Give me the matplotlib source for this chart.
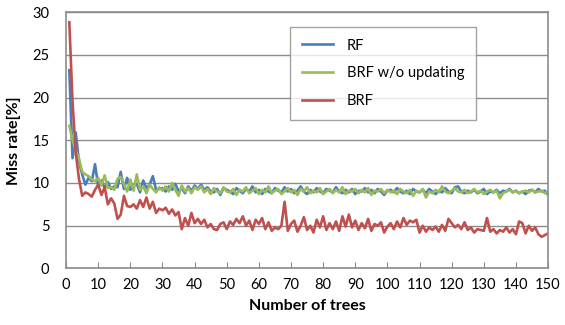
import matplotlib.pyplot as plt

plt.rcParams['font.family'] = ['Lato', 'DejaVu Sans']

# miss rate (%) per number of trees
rf = [23.2, 12.9, 15.9, 12.5, 11.0, 9.8, 10.6, 10.2, 12.2, 9.6,
      10.3, 9.4, 10.1, 9.3, 9.6, 9.5, 11.3, 9.3, 10.6, 9.2,
      9.7, 9.9, 8.9, 10.3, 9.4, 9.8, 10.8, 9.2, 9.3, 9.4,
      9.0, 9.6, 9.2, 9.9, 9.0, 9.4, 8.8, 9.6, 9.1, 9.7,
      9.3, 9.8, 9.2, 9.5, 9.0, 8.9, 9.3, 8.6, 9.4, 9.2,
      9.0, 8.7, 9.4, 9.1, 8.8, 9.3, 9.0, 9.6, 8.9, 9.2,
      8.7, 9.3, 9.0, 8.8, 9.4, 9.1, 8.9, 9.5, 9.0, 9.3,
      8.8, 9.1, 9.6, 9.0, 8.7, 9.2, 8.9, 9.4, 9.0, 8.8,
      9.3, 9.1, 8.9, 9.5, 9.0, 8.8, 9.2, 8.9, 9.3, 8.7,
      9.1, 9.0, 9.4, 8.9, 9.2, 8.8, 9.3, 9.0, 8.6, 9.1,
      9.2, 8.9, 9.4, 9.0, 8.8, 9.1, 8.7, 9.3, 9.0, 8.9,
      9.2, 8.8, 9.3, 9.0, 8.7, 9.1, 8.9, 9.4, 9.0, 8.8,
      9.5, 9.6, 9.0, 8.8, 9.1, 8.9, 9.2, 8.8, 9.0, 9.3,
      8.7, 9.0, 8.9, 9.2, 8.8, 9.1, 9.0, 9.3, 8.9, 9.1,
      8.8, 9.0, 8.7, 9.1, 9.2, 8.9, 9.3, 9.0, 9.1, 8.6]

brf_no_update = [16.7, 15.0, 13.8, 12.9, 11.3, 11.0, 10.8, 10.4, 10.2, 10.6,
                 9.7, 10.9, 9.4, 9.5, 9.2, 10.5, 10.7, 9.9, 9.0, 10.4,
                 9.1, 11.0, 9.2, 9.6, 8.8, 9.8, 9.3, 8.9, 9.5, 9.1,
                 9.6, 9.0, 10.0, 9.2, 8.5, 9.7, 9.0, 9.4, 8.8, 9.5,
                 9.2, 9.6, 8.9, 9.3, 8.7, 9.4, 9.0, 8.8, 9.5, 9.0,
                 8.9, 9.3, 8.6, 9.2, 9.0, 9.5, 8.8, 9.1, 9.4, 8.7,
                 9.2, 8.9, 9.6, 8.8, 9.1, 9.3, 8.7, 9.0, 9.4, 8.9,
                 9.2, 8.6, 9.3, 9.0, 9.5, 8.8, 9.1, 8.9, 9.4, 8.7,
                 9.0, 9.3, 8.8, 9.2, 8.9, 9.5, 8.7, 9.1, 9.0, 9.3,
                 8.8, 9.2, 8.9, 9.4, 8.6, 9.1, 9.0, 9.3, 8.8, 9.2,
                 8.9, 9.1, 8.7, 9.3, 9.0, 8.8, 9.2, 8.5, 9.1, 8.9,
                 9.3, 8.3, 9.0, 8.8, 9.2, 8.9, 9.6, 9.0, 8.8, 9.1,
                 9.4, 9.0, 8.9, 9.2, 8.8, 9.0, 9.3, 8.9, 9.1, 8.7,
                 9.0, 9.2, 8.9, 9.1, 8.2, 8.8, 9.0, 9.2, 8.9, 9.1,
                 8.8, 9.0, 9.1, 8.9, 9.2, 8.9, 9.0, 9.1, 8.8, 9.0]

brf = [28.8, 19.5, 13.5, 10.5, 8.5, 8.9, 8.7, 8.4, 9.2, 9.8,
       8.6, 9.5, 7.5, 8.2, 7.6, 5.8, 6.3, 8.5, 7.3, 7.2,
       7.5, 7.0, 8.0, 7.2, 8.3, 7.0, 7.8, 6.5, 7.0, 6.8,
       7.1, 6.4, 6.9, 6.2, 6.6, 4.6, 5.9, 5.0, 6.5, 5.3,
       5.8, 5.2, 5.7, 4.8, 5.2, 4.6, 4.5, 5.2, 5.4, 4.6,
       5.5, 5.1, 5.8, 5.3, 6.1, 5.0, 5.6, 4.5, 5.7, 5.2,
       5.9, 4.6, 5.4, 4.4, 4.8, 4.6, 5.0, 7.8, 4.4, 5.2,
       5.6, 4.3, 5.0, 6.0, 4.5, 5.0, 4.2, 5.7, 4.8, 6.1,
       4.5, 5.3, 4.6, 5.5, 4.4, 6.1, 4.9, 6.3, 4.8, 5.6,
       4.5, 5.3, 4.7, 5.8, 4.4, 5.2, 5.0, 5.4, 4.2, 4.9,
       5.3, 4.6, 5.5, 4.8, 5.9, 5.1, 5.6, 5.4, 5.7, 4.2,
       5.0, 4.3, 4.8, 4.5, 4.9, 4.3, 5.1, 4.4, 5.8, 5.3,
       4.8, 5.1, 4.6, 5.4, 4.5, 4.8, 4.2, 4.6, 4.5, 4.4,
       5.9, 4.3, 4.6, 4.1, 4.5, 4.3, 4.8, 4.2, 4.6, 4.0,
       5.5, 5.3, 4.1, 5.0, 4.4, 4.8, 4.0, 3.7, 3.9, 4.1]

labels = ["RF", "BRF w/o updating", "BRF"]
colors = ["#4A7EBB", "#9BBB59", "#C0504D"]

fig = plt.figure(figsize=(5.65, 3.25), dpi=100)
ax = fig.add_axes([0.117, 0.174, 0.853, 0.789])

for vals, lab, col in zip([rf, brf_no_update, brf], labels, colors):
    ax.plot(range(1, len(vals) + 1), vals, color=col, lw=1.9, label=lab)

ax.set_xlim(0, 150)
ax.set_ylim(0, 30)
ax.set_xticks(range(0, 151, 10))
ax.set_yticks(range(0, 31, 5))
ax.yaxis.grid(True, color="#8c8c8c", lw=1)
ax.set_axisbelow(True)
for s in ax.spines.values():
    s.set_color("#8c8c8c")
    s.set_linewidth(1.2)
ax.tick_params(axis="x", direction="in", length=4, color="#8c8c8c", labelsize=10.5, pad=7)
ax.tick_params(axis="y", length=0, labelsize=10.5, pad=12)

ax.set_xlabel("Number of trees", fontweight="bold", fontsize=11.5, labelpad=5)
ax.set_ylabel("Miss rate[%]", fontweight="bold", fontsize=11.5, labelpad=8)

leg = ax.legend(loc="upper left", bbox_to_anchor=(0.465, 0.942), fontsize=10.5,
                frameon=True, fancybox=False, handlelength=2.1, labelspacing=0.95,
                borderpad=0.8, handletextpad=1.0, borderaxespad=0)
leg.get_frame().set_edgecolor("#8c8c8c")
leg.get_frame().set_linewidth(1)

fig.savefig("out.png", dpi=100)
